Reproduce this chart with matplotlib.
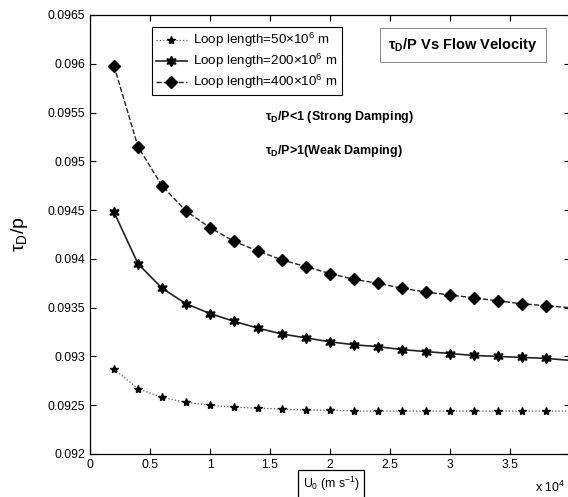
import matplotlib
matplotlib.use("Agg")
import matplotlib.pyplot as plt
from matplotlib.ticker import FuncFormatter

plt.rcParams['font.family'] = ['Liberation Sans', 'DejaVu Sans']
plt.rcParams['mathtext.fontset'] = 'custom'
plt.rcParams['mathtext.rm'] = 'Liberation Sans'
plt.rcParams['mathtext.it'] = 'Liberation Sans'
plt.rcParams['mathtext.bf'] = 'Liberation Sans:bold'

# Data (x in units of 1e4 m/s)
u0 = [0.2, 0.4, 0.6, 0.8, 1.0, 1.2, 1.4, 1.6, 1.8, 2.0,
      2.2, 2.4, 2.6, 2.8, 3.0, 3.2, 3.4, 3.6, 3.8, 4.0]
loop_50 = [0.09287, 0.09267, 0.09258, 0.09253, 0.09250, 0.09248, 0.09247, 0.09246, 0.09245, 0.09245,
           0.09244, 0.09244, 0.09244, 0.09244, 0.09244, 0.09244, 0.09244, 0.09244, 0.09244, 0.09244]
loop_200 = [0.09448, 0.09395, 0.09370, 0.09354, 0.09344, 0.09336, 0.09329, 0.09323, 0.09319, 0.09315,
            0.09312, 0.09310, 0.09307, 0.09305, 0.09303, 0.09301, 0.09300, 0.09299, 0.09298, 0.09296]
loop_400 = [0.09598, 0.09515, 0.09475, 0.09449, 0.09432, 0.09418, 0.09408, 0.09399, 0.09392, 0.09385,
            0.09379, 0.09375, 0.09370, 0.09366, 0.09363, 0.09360, 0.09357, 0.09354, 0.09352, 0.09350]
labels = ["Loop length=50\u00d710$^6$ m",
          "Loop length=200\u00d710$^6$ m",
          "Loop length=400\u00d710$^6$ m"]
xticks = [0, 0.5, 1, 1.5, 2, 2.5, 3, 3.5, 4]
yticks = [0.092, 0.0925, 0.093, 0.0935, 0.094, 0.0945, 0.095, 0.0955, 0.096, 0.0965]

fig = plt.figure(figsize=(5.68, 4.97), dpi=100)
W, H = 568, 497
ax = fig.add_axes([90 / W, 43 / H, 480 / W, 439 / H])

mk = slice(0, 19)
ax.plot(u0, loop_50, linestyle=':', color='#555555', linewidth=0.9,
        marker='*', markersize=6, markerfacecolor='black', markeredgecolor='black',
        markevery=mk, label=labels[0])
ax.plot(u0, loop_200, linestyle='-', color='#222222', linewidth=1.2,
        marker=(6, 1, 0), markersize=7.5, markerfacecolor='black', markeredgecolor='black',
        markevery=mk, label=labels[1])
ax.plot(u0, loop_400, linestyle='--', color='#222222', linewidth=1.0,
        marker='D', markersize=6.5, markerfacecolor='black', markeredgecolor='black',
        markevery=mk, label=labels[2])

ax.set_xlim(0, 4)
ax.set_ylim(0.092, 0.0965)
ax.set_xticks(xticks)
ax.set_xticklabels([('%g' % t) if t < 4 else '' for t in xticks])
ax.set_yticks(yticks)
ax.yaxis.set_major_formatter(FuncFormatter(lambda v, p: ('%.4f' % v).rstrip('0')))
ax.tick_params(direction='in', top=True, right=True, labelsize=8.8, length=4, width=0.8)
for s in ax.spines.values():
    s.set_linewidth(0.9)

leg = ax.legend(loc='upper left', bbox_to_anchor=(0.129, 0.972), borderaxespad=0,
                fontsize=9.6, fancybox=False, edgecolor='black', framealpha=1,
                handlelength=2.3, labelspacing=0.2, borderpad=0.3, handletextpad=0.5)
leg.get_frame().set_linewidth(0.8)

ax.set_ylabel("\u03c4$_D$/p", fontsize=14)
ax.yaxis.set_label_coords(-0.125, 0.5)

# title box
fig.text(463 / W, 1 - 45 / H, "\u03c4$_\\mathbf{D}$/P Vs Flow Velocity", fontsize=10.5, fontweight='bold',
         ha='center', va='center',
         bbox=dict(boxstyle='square,pad=0.55', facecolor='white', edgecolor='#888888', linewidth=0.7))

fig.text(265 / W, 1 - 117 / H, "\u03c4$_\\mathbf{D}$/P<1 (Strong Damping)", fontsize=9, fontweight='bold',
         ha='left', va='center')
fig.text(265 / W, 1 - 151 / H, "\u03c4$_\\mathbf{D}$/P>1(Weak Damping)", fontsize=9, fontweight='bold',
         ha='left', va='center')

# x label in a box
fig.text(331 / W, 1 - 484 / H, r"U$_0$ (m s$^{-1}$)", fontsize=8.8, ha='center', va='center',
         bbox=dict(boxstyle='square,pad=0.4', facecolor='white', edgecolor='black', linewidth=0.9))
fig.text(565 / W, 1 - 487 / H, r"x 10$^4$", fontsize=8.8, ha='right', va='center')

fig.savefig("out.png", dpi=100)
